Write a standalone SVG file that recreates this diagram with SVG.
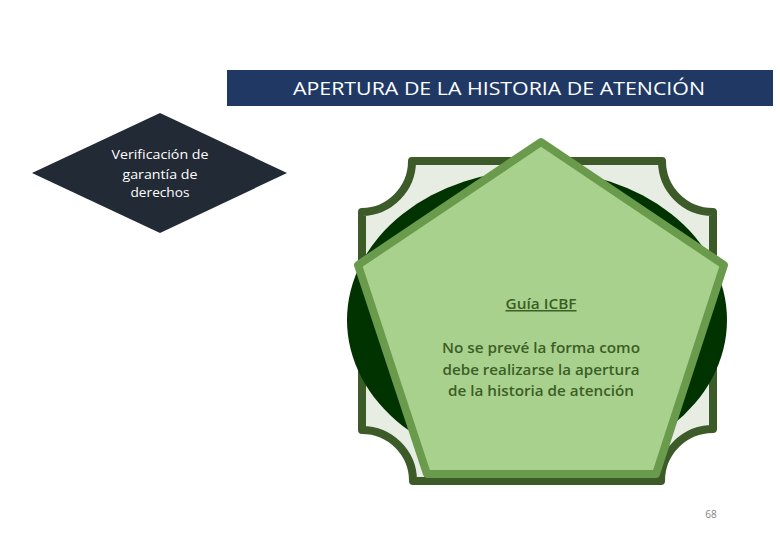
<svg xmlns="http://www.w3.org/2000/svg" width="780" height="540" viewBox="0 0 780 540">
<style>
.t{font-family:"Open Sans","Liberation Sans","DejaVu Sans",sans-serif}
.hdr{fill:#fff;font-size:19px}
.dia{fill:#fff;font-size:12.5px}
.pt{fill:#3b5e25;font-size:15px;font-weight:600}
</style>
<rect width="780" height="540" fill="#fff"/>
<g id="header">
<rect x="227" y="70" width="546" height="36" fill="#203864"/>
<text class="t hdr" x="499" y="95" text-anchor="middle" textLength="412" lengthAdjust="spacingAndGlyphs">APERTURA DE LA HISTORIA DE ATENCIÓN</text>
</g>
<g id="diamond">
<polygon points="160,113 287,173 160,233 32,173" fill="#222a35"/>
<text class="t dia" text-anchor="middle"><tspan x="160" y="159" textLength="97" lengthAdjust="spacingAndGlyphs">Verificación de</tspan></text>
<text class="t dia" text-anchor="middle"><tspan x="160" y="179" textLength="75" lengthAdjust="spacingAndGlyphs">garantía de</tspan></text>
<text class="t dia" text-anchor="middle"><tspan x="160" y="197" textLength="59" lengthAdjust="spacingAndGlyphs">derechos</tspan></text>
</g>
<g id="plaque">
<path d="M412,161 L662,161 A51,51 0 0 0 713,212 L713,429 A52,52 0 0 0 661,481 L413,481 A51,51 0 0 0 362,430 L362,212 A51,51 0 0 0 412,161 Z" fill="#e8ede4" stroke="#3d5b29" stroke-width="8" stroke-linejoin="round"/>
</g>
<g id="ellipse">
<ellipse cx="537" cy="320" rx="190" ry="150" fill="#003300"/>
</g>
<g id="pentagon">
<polygon points="541,142 724,265 656,474 427,474 358,265" fill="#a9d18e" stroke="#6a9a4b" stroke-width="8" stroke-linejoin="round"/>
<text class="t pt" x="541" y="309" text-anchor="middle" text-decoration="underline" textLength="71" lengthAdjust="spacingAndGlyphs">Guía ICBF</text>
<text class="t pt" x="541" y="353" text-anchor="middle" textLength="198" lengthAdjust="spacingAndGlyphs">No se prevé la forma como</text>
<text class="t pt" x="541" y="375" text-anchor="middle" textLength="197" lengthAdjust="spacingAndGlyphs">debe realizarse la apertura</text>
<text class="t pt" x="541" y="396" text-anchor="middle" textLength="186" lengthAdjust="spacingAndGlyphs">de la historia de atención</text>
</g>
<g id="connectors"/>
<text class="t" x="711" y="518" text-anchor="middle" font-size="10" fill="#7f7f7f">68</text>
</svg>
